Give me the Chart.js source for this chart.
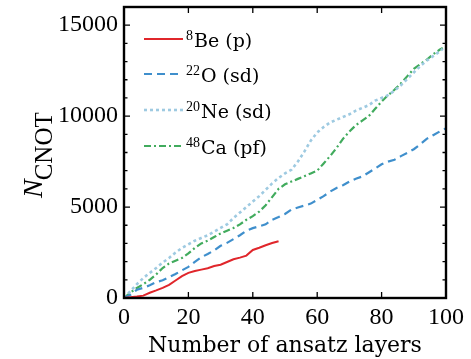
<!DOCTYPE html>
<html>
<head>
<meta charset="utf-8">
<script src="https://cdn.jsdelivr.net/npm/chart.js@4.4.0/dist/chart.umd.min.js"></script>
<style>
  body { margin: 0; background: #fff; }
  #wrap { width: 471px; height: 359px; }
</style>
</head>
<body>
<div id="wrap"><canvas id="cnotChart" width="471" height="359"></canvas></div>
<script>
const SERIF = "'Liberation Serif', 'DejaVu Serif', serif";
const WIDE_SERIF = "'DejaVu Serif', 'Liberation Serif', serif";

// 8Be (p)
const beLayers = [0, 2, 4, 6, 8, 10, 12, 14, 16, 18, 20, 22, 24, 26, 28, 30, 32, 34, 36, 38, 40, 42, 44, 46, 48];
const beCnot = [0, 40, 80, 130, 290, 420, 560, 720, 960, 1200, 1380, 1480, 1560, 1640, 1760, 1830, 1980, 2130, 2220, 2330, 2640, 2760, 2900, 3020, 3120];

// 22O (sd)
const oLayers = [0, 2, 4, 6, 8, 10, 12, 14, 16, 18, 20, 22, 24, 26, 28, 30, 32, 34, 36, 38, 40, 42, 44, 46, 48, 50,
  52, 54, 56, 58, 60, 62, 64, 66, 68, 70, 72, 74, 76, 78, 80, 82, 84, 86, 88, 90, 92, 94, 96, 98, 100];
const oCnot = [0, 180, 450, 560, 700, 870, 980, 1150, 1320, 1520, 1710, 1990, 2240, 2420, 2620, 2870, 3030, 3240, 3450, 3700,
  3840, 3940, 4050, 4300, 4450, 4620, 4860, 4980, 5080, 5190, 5400, 5600, 5850, 6050, 6200, 6400, 6560, 6680, 6900, 7120,
  7350, 7500, 7600, 7800, 7980, 8180, 8450, 8750, 8950, 9150, 9330];

// 20Ne (sd)
const neLayers = [0, 2, 4, 6, 8, 10, 12, 14, 16, 18, 20, 22, 24, 26, 28, 30, 32, 34, 36, 38, 40, 42, 44, 46, 48, 50,
  52, 54, 56, 58, 60, 62, 64, 66, 68, 70, 72, 74, 76, 78, 80, 82, 84, 86, 88, 90, 92, 94, 96, 98, 99];
const neCnot = [0, 380, 760, 1100, 1380, 1650, 1950, 2200, 2500, 2750, 2950, 3150, 3300, 3450, 3650, 3850, 4050, 4400, 4700, 5000,
  5300, 5600, 5950, 6300, 6600, 6850, 7050, 7500, 8050, 8650, 9100, 9400, 9650, 9800, 9950, 10100, 10300, 10450, 10600, 10850,
  11000, 11150, 11400, 11700, 12050, 12400, 12750, 13050, 13300, 13550, 13700];

// 48Ca (pf)
const caLayers = [0, 2, 4, 6, 8, 10, 12, 14, 16, 18, 20, 22, 24, 26, 28, 30, 32, 34, 36, 38, 40, 42, 44, 46, 48, 50,
  52, 54, 56, 58, 60, 62, 64, 66, 68, 70, 72, 74, 76, 78, 80, 82, 84, 86, 88, 90, 92, 94, 96, 98, 99];
const caCnot = [0, 300, 550, 760, 1000, 1300, 1650, 1900, 2050, 2200, 2450, 2750, 3000, 3150, 3350, 3550, 3700, 3850, 4050, 4300,
  4500, 4750, 5100, 5550, 6000, 6250, 6400, 6550, 6700, 6850, 7000, 7400, 7800, 8250, 8750, 9150, 9500, 9750, 10000, 10400,
  10800, 11150, 11450, 11800, 12200, 12600, 12850, 13100, 13400, 13650, 13750];

const xTicks = [0, 20, 40, 60, 80, 100];
const yTicks = [0, 5000, 10000, 15000];

const series = [
  { sup: "8", name: "Be (p)", layers: beLayers, values: beCnot, color: "#e0262b", dash: [], width: 2 },
  { sup: "22", name: "O (sd)", layers: oLayers, values: oCnot, color: "#3f8fcc", dash: [8, 5], width: 2.2 },
  { sup: "20", name: "Ne (sd)", layers: neLayers, values: neCnot, color: "#9ecae1", dash: [3, 3], width: 2.6 },
  { sup: "48", name: "Ca (pf)", layers: caLayers, values: caCnot, color: "#41ab5d", dash: [7, 3, 2, 3], width: 2.2 },
];

function zip(xs, ys) {
  return xs.map((x, i) => ({ x: x, y: ys[i] }));
}

// frame box plus inward tick marks on all four sides
const frameTicks = {
  id: "frameTicks",
  afterDraw(chart) {
    const { ctx, chartArea: a, scales } = chart;
    const xs = scales.x, ys = scales.y;
    ctx.save();
    ctx.strokeStyle = "#000";
    ctx.lineWidth = 1.3;
    ctx.beginPath();
    xTicks.forEach((v) => {
      const px = xs.getPixelForValue(v);
      ctx.moveTo(px, a.bottom); ctx.lineTo(px, a.bottom - 6);
      ctx.moveTo(px, a.top); ctx.lineTo(px, a.top + 6);
    });
    for (let v = 0; v <= 16000; v += 1000) {
      const py = ys.getPixelForValue(v);
      const len = v % 5000 === 0 ? 6 : 3.5;
      ctx.moveTo(a.left, py); ctx.lineTo(a.left + len, py);
      ctx.moveTo(a.right, py); ctx.lineTo(a.right - len, py);
    }
    ctx.stroke();
    ctx.lineWidth = 2.4;
    ctx.strokeRect(a.left, a.top, a.right - a.left, a.bottom - a.top);
    ctx.restore();
  },
};

// legend with superscripted mass numbers
const nucleusLegend = {
  id: "nucleusLegend",
  afterDatasetsDraw(chart) {
    const ctx = chart.ctx;
    const x0 = 144, x1 = 183;
    const rows = [39, 74, 110, 146];
    ctx.save();
    series.forEach((s, i) => {
      const y = rows[i];
      ctx.strokeStyle = s.color;
      ctx.lineWidth = s.width;
      ctx.setLineDash(s.dash);
      ctx.beginPath();
      ctx.moveTo(x0, y);
      ctx.lineTo(x1, y);
      ctx.stroke();
      ctx.setLineDash([]);
      ctx.fillStyle = "#000";
      ctx.textBaseline = "alphabetic";
      ctx.textAlign = "left";
      ctx.font = "14px " + SERIF;
      ctx.fillText(s.sup, 186, y + 1);
      const w = ctx.measureText(s.sup).width;
      ctx.font = "19px " + WIDE_SERIF;
      ctx.fillText(s.name, 186 + w + 1, y + 8);
    });
    ctx.restore();
  },
};

// rotated y title: italic N with subscript CNOT
const yTitle = {
  id: "yTitle",
  afterDraw(chart) {
    const ctx = chart.ctx;
    ctx.save();
    ctx.translate(42, 198);
    ctx.rotate(-Math.PI / 2);
    ctx.fillStyle = "#000";
    ctx.textAlign = "left";
    ctx.textBaseline = "alphabetic";
    ctx.font = "italic 28px " + SERIF;
    ctx.fillText("N", 0, 0);
    const w = ctx.measureText("N").width;
    ctx.font = "25px " + SERIF;
    ctx.fillText("CNOT", w - 1, 10);
    ctx.restore();
  },
};

new Chart(document.getElementById("cnotChart").getContext("2d"), {
  type: "line",
  data: {
    datasets: series.map((s) => ({
      label: s.name,
      data: zip(s.layers, s.values),
      borderColor: s.color,
      borderWidth: s.width,
      borderDash: s.dash,
      pointRadius: 0,
      fill: false,
      tension: 0,
    })),
  },
  options: {
    responsive: false,
    animation: false,
    layout: { padding: { top: 7, right: 25, left: 0, bottom: 0 } },
    plugins: {
      legend: { display: false },
      tooltip: { enabled: false },
    },
    scales: {
      x: {
        type: "linear",
        min: 0,
        max: 100,
        grid: { display: false, drawTicks: false },
        border: { display: false },
        ticks: {
          stepSize: 20,
          padding: 5,
          color: "#000",
          maxRotation: 0,
          font: { family: SERIF, size: 24 },
          callback: (v) => String(v),
        },
        title: {
          display: true,
          text: "Number of ansatz layers",
          color: "#000",
          padding: { top: 2, bottom: 0 },
          font: { family: WIDE_SERIF, size: 22 },
        },
        afterFit(scale) {
          scale.height = 61;
          scale.paddingLeft = 0;
          scale.paddingRight = 0;
        },
      },
      y: {
        min: 0,
        max: 16000,
        grid: { display: false, drawTicks: false },
        border: { display: false },
        afterBuildTicks(scale) {
          scale.ticks = yTicks.map((v) => ({ value: v }));
        },
        ticks: {
          padding: 6,
          color: "#000",
          font: { family: SERIF, size: 24 },
          callback: (v) => String(v),
        },
        afterFit(scale) {
          scale.width = 124;
          scale.paddingTop = 0;
          scale.paddingBottom = 0;
        },
      },
    },
  },
  plugins: [frameTicks, nucleusLegend, yTitle],
});
</script>
</body>
</html>
